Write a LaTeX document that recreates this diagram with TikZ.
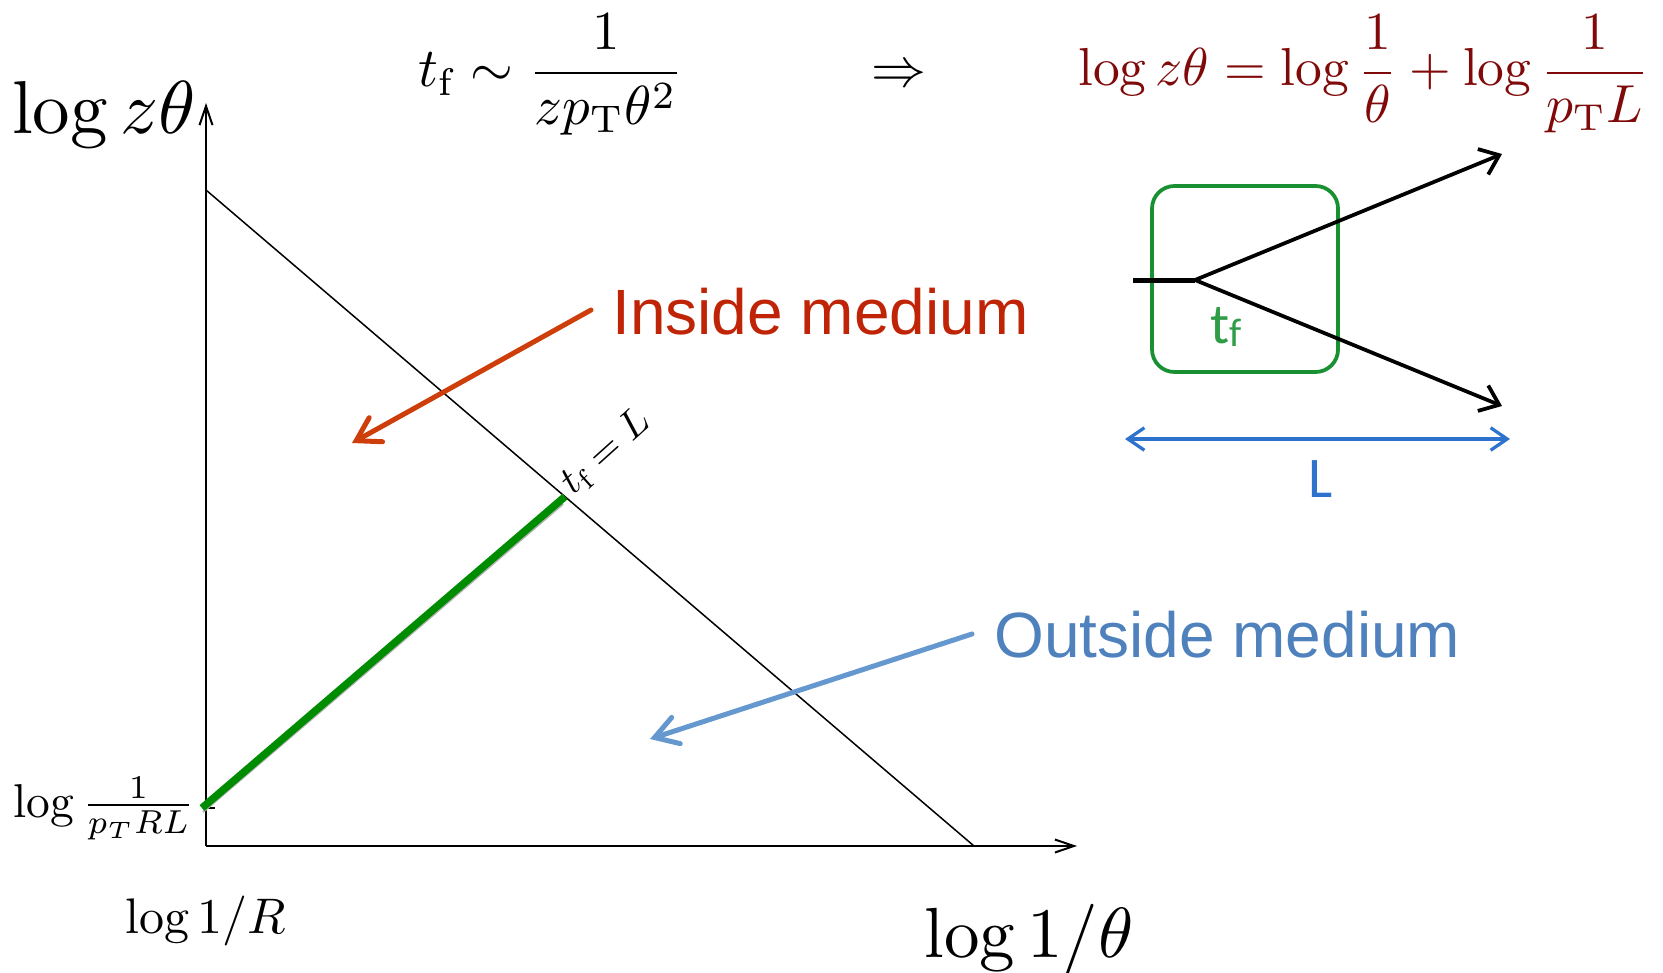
\documentclass[tikz,border=0pt]{standalone}
\usepackage{fontspec}
\newfontfamily\arialfont{Liberation Sans}
\newfontfamily\califont{Carlito}
\usetikzlibrary{arrows.meta,calc}
\definecolor{eqred}{RGB}{128,10,10}
\definecolor{inred}{RGB}{192,36,6}
\definecolor{arrred}{RGB}{205,62,10}
\definecolor{outblue}{RGB}{79,129,189}
\definecolor{arrblue}{RGB}{100,152,206}
\definecolor{linegreen}{RGB}{0,140,0}
\definecolor{boxgreen}{RGB}{25,145,50}
\definecolor{lblue}{RGB}{45,115,205}
\begin{document}
\begin{tikzpicture}[x=0.2pt,y=-0.2pt,
  axis/.style={line width=0.4pt,-{Straight Barb[length=3.8pt,width=2.6pt]}},
  callout/.style={line width=1pt,line cap=round,-{Straight Barb[length=4.5pt,width=5.5pt,line cap=round]}},
  mathlbl/.style={inner sep=0pt},
  bigsans/.style={inner sep=0pt,anchor=base west,scale=1.28,font=\arialfont},
  branch/.style={line width=0.75pt,-{Straight Barb[length=3.5pt,width=5.5pt]}},
  sketchlbl/.style={font=\califont,inner sep=0pt,anchor=base}]
\useasboundingbox (0,0) rectangle (1663,972);
% axes
\coordinate (O) at (206,846);
\coordinate (Ytop) at (206,103);
\coordinate (Xend) at (1077,846);
\draw[axis] (O) -- (Ytop);
\draw[axis] (O) -- (Xend);
% diagonal
\coordinate (D1) at (206,190);
\coordinate (D2) at (974,846);
\draw[line width=0.3pt] (D1) -- (D2);
% tick
\coordinate (T1) at (206,808);
\coordinate (T2) at (215,808);
\draw[line width=0.4pt] (T1) -- (T2);
% green line with grey shadow
\coordinate (G1) at (202,808);
\coordinate (G2) at ($(D1)!0.4674!(D2)$);
\coordinate (S1) at (203,812);
\coordinate (S2) at (563,504);
\draw[gray!60,line width=0.4pt] (S1) -- (S2);
\draw[linegreen,line width=1.5pt] (G1) -- (G2);
\node[mathlbl,anchor=base west,rotate=42,scale=0.8] (tfl) at (573,496) {$t_{\mathrm{f}}=L$};
% labels
\node[mathlbl,anchor=base,scale=1.5] (ylab) at (104,134) {$\log z\theta$};
\node[mathlbl,anchor=base,scale=1.1] (tfeq) at (551,87) {$t_{\mathrm{f}}\sim\displaystyle\frac{1}{zp_{\mathrm{T}}\theta^2}$};
\node[mathlbl,anchor=base,scale=1.1] (impl) at (899,87) {$\Rightarrow$};
\node[mathlbl,anchor=base,scale=1.07,text=eqred] (redeq) at (1364,86) {$\displaystyle\log z\theta=\log\frac{1}{\theta}+\log\frac{1}{p_{\mathrm{T}}L}$};
\node[mathlbl,anchor=base,scale=1.42] (xlab) at (1029,957) {$\log 1/\theta$};
\node[mathlbl,anchor=base] (rlab) at (206,933) {$\log 1/R$};
\node[mathlbl,anchor=base,scale=0.95] (plab) at (104,817) {$\log\frac{1}{p_TRL}$};
% callouts
\node[bigsans,text=inred] (inside) at (611,334) {Inside medium};
\node[bigsans,text=outblue] (outside) at (993,657) {Outside medium};
\coordinate (ia) at (591,310);
\coordinate (ib) at (352,443);
\draw[callout,arrred] (ia) -- (ib);
\coordinate (oa) at (972,634);
\coordinate (ob) at (650,739);
\draw[callout,arrblue] (oa) -- (ob);
% schematic
\node[draw=boxgreen,line width=0.75pt,rounded corners=4.5pt,minimum width=37.2pt,minimum height=37.2pt,inner sep=0pt] (tfbox) at (1245,279) {};
\coordinate (q0) at (1133,280);
\coordinate (v) at (1195,280);
\coordinate (q1) at (1502,154);
\coordinate (q2) at (1502,406);
\draw[line width=1pt] (q0) -- (v);
\draw[branch] (v) -- (q1);
\draw[branch] (v) -- (q2);
\node[sketchlbl,text=boxgreen!90!white,scale=1.14] (tf) at (1226,343) {t\raisebox{-0.7pt}{\fontsize{7}{8}\selectfont f}};
\coordinate (La) at (1125,439);
\coordinate (Lb) at (1510,439);
\draw[lblue,line width=0.65pt,{Straight Barb[length=3.3pt,width=4.5pt]}-{Straight Barb[length=3.3pt,width=4.5pt]}] (La) -- (Lb);
\node[sketchlbl,text=lblue,scale=1.15] (Llab) at (1321,497) {L};
\end{tikzpicture}
\end{document}
